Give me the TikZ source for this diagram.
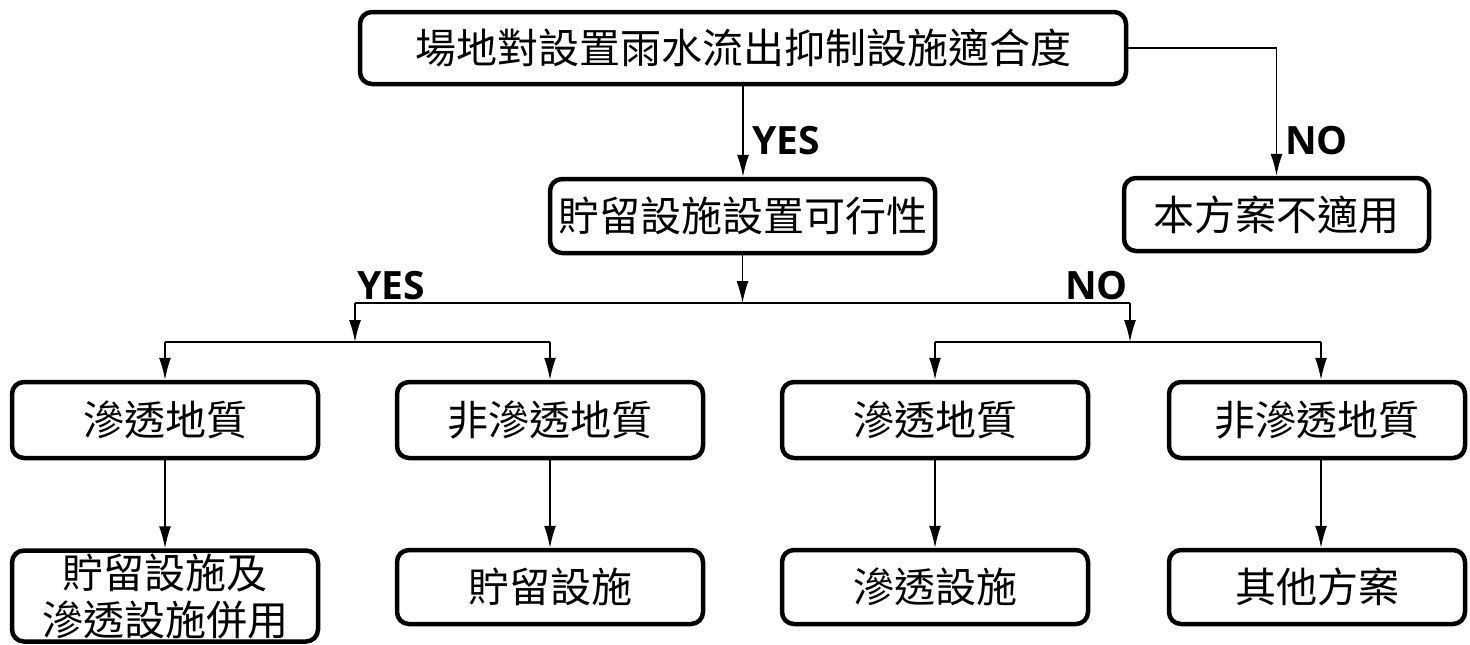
\documentclass[tikz,border=0pt]{standalone}
\usepackage{fontspec}
\newfontfamily\cjk{Noto Sans CJK TC}
\newfontfamily\lab{Open Sans}
\usetikzlibrary{arrows.meta}
\begin{document}
\begin{tikzpicture}[x=1pt,y=-1pt,
  box/.style={draw, line width=4.5pt, rounded corners=12pt, align=center, inner sep=0pt,
    font=\cjk\fontsize{41}{47}\selectfont},
  conn/.style={line width=1.5pt, -{Latex[length=22pt,width=12pt]}},
  wire/.style={line width=1.5pt},
  lbl/.style={font=\lab\bfseries\fontsize{39}{42}\selectfont, anchor=base west, inner sep=0pt}]
\useasboundingbox (0,0) rectangle (1470,645);
% boxes
\node[box, minimum width=766pt, minimum height=72pt] (top) at (743,48) {場地對設置雨水流出抑制設施適合度};
\node[box, minimum width=385pt, minimum height=74pt] (b2) at (742.5,216) {貯留設施設置可行性};
\node[box, minimum width=305pt, minimum height=73pt] (b3) at (1276.5,214.5) {本方案不適用};
\node[box, minimum width=306pt, minimum height=76pt] (r1a) at (165,420) {滲透地質};
\node[box, minimum width=306pt, minimum height=76pt] (r1b) at (550,420) {非滲透地質};
\node[box, minimum width=306pt, minimum height=76pt] (r1c) at (935,420) {滲透地質};
\node[box, minimum width=296pt, minimum height=76pt] (r1d) at (1317,420) {非滲透地質};
\node[box, minimum width=306pt, minimum height=91pt] (r2a) at (165,596) {貯留設施及\\滲透設施併用};
\node[box, minimum width=306pt, minimum height=74pt] (r2b) at (550,587) {貯留設施};
\node[box, minimum width=306pt, minimum height=74pt] (r2c) at (935,587) {滲透設施};
\node[box, minimum width=296pt, minimum height=74pt] (r2d) at (1317,587) {其他方案};
% junction points
\coordinate (jl) at (355,303);
\coordinate (jr) at (1130,303);
\coordinate (sl) at (355,342);
\coordinate (sr) at (1130,342);
\coordinate (dd) at (1321,342);
% connectors
\draw[conn] (top.south) -- (top.south |- b2.north);
\draw[conn] (top.east) -| (b3.north);
\draw[conn] (b2.south) -- (b2.south |- jl);
\draw[wire] (jl) -- (jr);
\draw[conn] (jl) -- (sl);
\draw[conn] (jr) -- (sr);
\draw[wire] (r1a.north |- sl) -- (r1b.north |- sl);
\draw[wire] (r1c.north |- sr) -- (dd);
\draw[conn] (r1a.north |- sl) -- (r1a.north);
\draw[conn] (r1b.north |- sl) -- (r1b.north);
\draw[conn] (r1c.north |- sr) -- (r1c.north);
\draw[conn] (dd) -- (dd |- r1d.north);
\draw[conn] (r1a.south) -- (r2a.north);
\draw[conn] (r1b.south) -- (r2b.north);
\draw[conn] (r1c.south) -- (r2c.north);
\draw[conn] (dd |- r1d.south) -- (dd |- r2d.north);
% labels
\node[lbl] (yes1) at (752,154) {YES};
\node[lbl] (no1) at (1285,154) {NO};
\node[lbl] (yes2) at (357,299) {YES};
\node[lbl] (no2) at (1065,299) {NO};
\end{tikzpicture}
\end{document}
